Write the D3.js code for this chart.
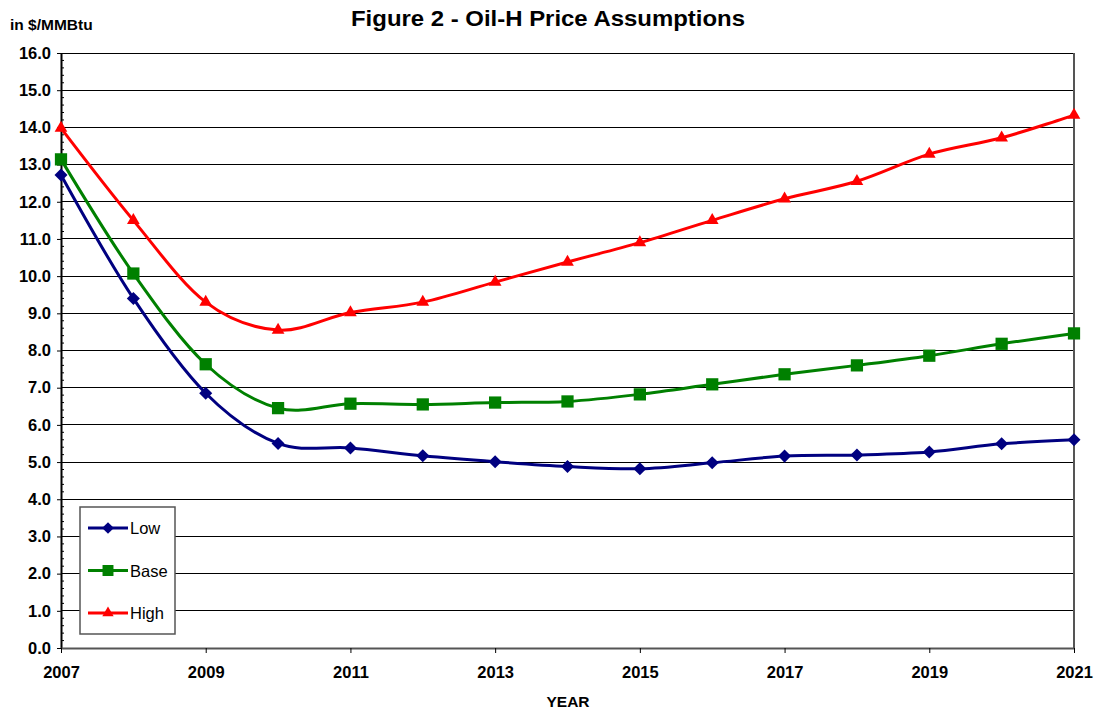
<!DOCTYPE html>
<html>
<head>
<meta charset="utf-8">
<script src="https://cdn.jsdelivr.net/npm/d3@7"></script>
<style>
  body { margin: 0; background: #fff; }
  svg { font-family: "Liberation Sans", Arial, sans-serif; }
</style>
</head>
<body>
<script>
"use strict";

// data
const years = [2007, 2008, 2009, 2010, 2011, 2012, 2013, 2014, 2015, 2016, 2017, 2018, 2019, 2020, 2021];
const lowValues  = [12.72, 9.4, 6.85, 5.5, 5.38, 5.17, 5.01, 4.88, 4.82, 4.98, 5.16, 5.19, 5.27, 5.49, 5.6];
const baseValues = [13.14, 10.07, 7.63, 6.45, 6.57, 6.55, 6.6, 6.63, 6.82, 7.09, 7.36, 7.6, 7.86, 8.18, 8.46];
const highValues = [13.98, 11.5, 9.3, 8.55, 9.02, 9.3, 9.84, 10.38, 10.9, 11.5, 12.08, 12.55, 13.28, 13.72, 14.33];
const xTickYears = [2007, 2009, 2011, 2013, 2015, 2017, 2019, 2021];
const seriesNames = ["Low", "Base", "High"];

const series = [
  {name: seriesNames[0], values: lowValues,  color: "#000080", marker: d3.symbolSquare,   size: 85, rotate: 45},
  {name: seriesNames[1], values: baseValues, color: "#008000", marker: d3.symbolSquare,   size: 150, rotate: 0},
  {name: seriesNames[2], values: highValues, color: "#ff0000", marker: d3.symbolTriangle, size: 70, rotate: 0}
];

const width = 1097, height = 713;
const margin = {left: 61, right: 23, top: 53, bottom: 65};

const svg = d3.select("body").append("svg")
  .attr("width", width).attr("height", height);

const x = d3.scaleLinear().domain([2007, 2021]).range([margin.left, width - margin.right]);
const y = d3.scaleLinear().domain([0, 16]).range([height - margin.bottom, margin.top]);

// gridlines
svg.append("g")
  .selectAll("line")
  .data(d3.range(1, 17))
  .enter().append("line")
  .attr("x1", x(2007)).attr("x2", x(2021))
  .attr("y1", d => y(d)).attr("y2", d => y(d))
  .attr("stroke", "#000").attr("stroke-width", 1)
  .attr("shape-rendering", "crispEdges");

// right border
svg.append("line")
  .attr("x1", x(2021)).attr("x2", x(2021))
  .attr("y1", y(0)).attr("y2", y(16))
  .attr("stroke", "#555").attr("stroke-width", 2);

// y axis
const yAxis = svg.append("g")
  .attr("transform", "translate(" + margin.left + ",0)")
  .call(d3.axisLeft(y).tickValues(d3.range(0, 17)).tickFormat(d3.format(".1f")).tickSize(4).tickSizeOuter(0));
yAxis.select(".domain").attr("stroke", "#000").attr("stroke-width", 2);
yAxis.selectAll(".tick text")
  .attr("font-size", 16.5).attr("font-weight", "bold").attr("fill", "#000").attr("x", -10);

// minor ticks inside
svg.append("g")
  .selectAll("line")
  .data(d3.range(0, 80).filter(i => i % 5 !== 0).map(i => i * 0.2))
  .enter().append("line")
  .attr("x1", margin.left).attr("x2", margin.left + 3)
  .attr("y1", d => y(d)).attr("y2", d => y(d))
  .attr("stroke", "#000").attr("stroke-width", 1);

// x axis
const xAxis = svg.append("g")
  .attr("transform", "translate(0," + y(0) + ")")
  .call(d3.axisBottom(x).tickValues(xTickYears).tickFormat(d3.format("d")).tickSize(5).tickSizeOuter(0));
xAxis.select(".domain").attr("stroke", "#555").attr("stroke-width", 2);
xAxis.selectAll(".tick text")
  .attr("font-size", 16.5).attr("font-weight", "bold").attr("fill", "#000")
  .attr("y", 30).attr("dy", null);

// lines
const line = d3.line()
  .x((d, i) => x(years[i]))
  .y(d => y(d))
  .curve(d3.curveCatmullRom.alpha(0));

series.forEach(function(s) {
  svg.append("path")
    .datum(s.values)
    .attr("d", line)
    .attr("fill", "none")
    .attr("stroke", s.color)
    .attr("stroke-width", 3);
  svg.append("g")
    .selectAll("path")
    .data(s.values)
    .enter().append("path")
    .attr("d", d3.symbol().type(s.marker).size(s.size))
    .attr("transform", (d, i) => "translate(" + x(years[i]) + "," + y(d) + ") rotate(" + s.rotate + ")")
    .attr("fill", s.color);
});

// legend
const legend = svg.append("g").attr("transform", "translate(80,507)");
legend.append("rect")
  .attr("width", 95).attr("height", 127)
  .attr("fill", "#fff").attr("stroke", "#555").attr("stroke-width", 1.5);
series.forEach(function(s, i) {
  const ly = 21 + i * 42.5;
  legend.append("line")
    .attr("x1", 8).attr("x2", 48).attr("y1", ly).attr("y2", ly)
    .attr("stroke", s.color).attr("stroke-width", 3);
  legend.append("path")
    .attr("d", d3.symbol().type(s.marker).size(s.size * 0.8))
    .attr("transform", "translate(28," + ly + ") rotate(" + s.rotate + ")")
    .attr("fill", s.color);
  legend.append("text")
    .attr("x", 50).attr("y", ly + 6)
    .attr("font-size", 16.5)
    .text(s.name);
});

// titles
svg.append("text")
  .attr("x", 548).attr("y", 26)
  .attr("text-anchor", "middle")
  .attr("font-size", 22).attr("font-weight", "bold")
  .attr("textLength", 394).attr("lengthAdjust", "spacingAndGlyphs")
  .text("Figure 2 - Oil-H Price Assumptions");

svg.append("text")
  .attr("x", 10).attr("y", 30)
  .attr("font-size", 15.5).attr("font-weight", "bold")
  .text("in $/MMBtu");

svg.append("text")
  .attr("x", 568).attr("y", 707)
  .attr("text-anchor", "middle")
  .attr("font-size", 15.5).attr("font-weight", "bold")
  .text("YEAR");
</script>
</body>
</html>
